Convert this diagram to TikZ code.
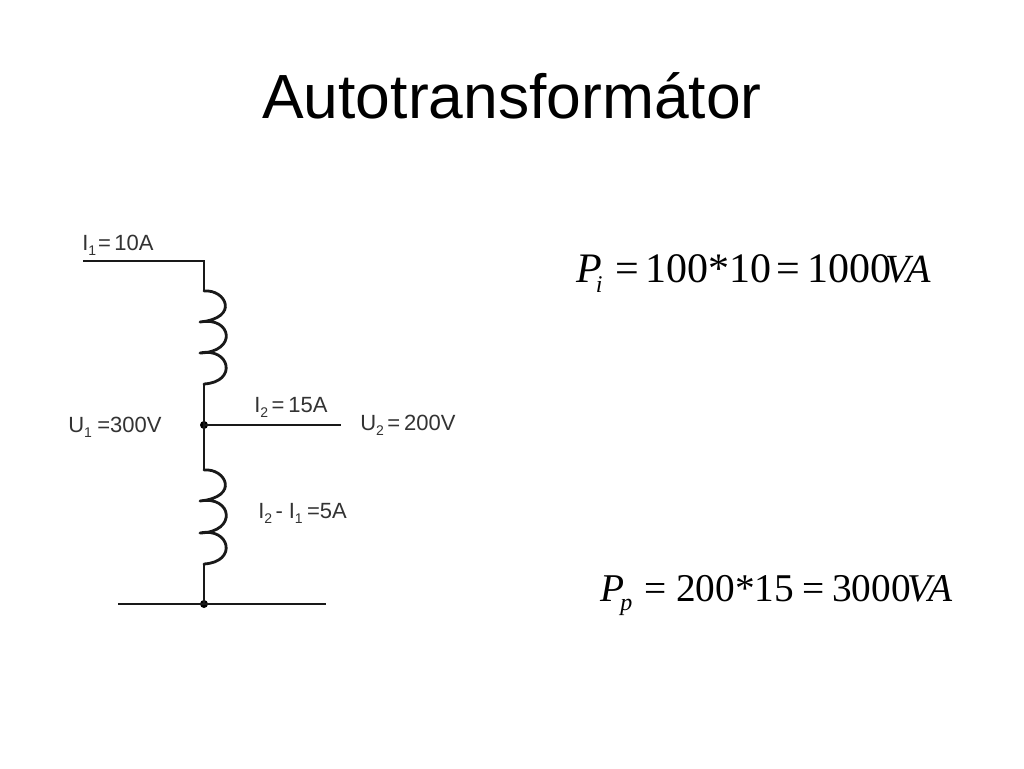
\documentclass[tikz,border=0pt]{standalone}
\usepackage{fontspec}
\setmainfont{Liberation Sans}
\newfontfamily\eqfont{Liberation Serif}
\newcommand{\subs}[1]{\raisebox{-4pt}{\fontsize{10.5pt}{11pt}\selectfont #1}}
\tikzset{
  x=0.75pt,y=-0.75pt,
  wire/.style={line width=2.1pt,black!90,line cap=butt},
  coilwire/.style={line width=2.1pt,black!90,line cap=round},
  junction/.style={circle,fill=black,inner sep=0pt,minimum size=6pt},
  lab/.style={anchor=base west,inner sep=0pt,text=black!80,font=\fontsize{16.5pt}{18pt}\selectfont},
  eqn/.style={anchor=base west,inner sep=0pt,text=black,font=\eqfont\fontsize{31.5pt}{33pt}\selectfont},
  eqnb/.style={anchor=base west,inner sep=0pt,text=black,font=\eqfont\fontsize{29.5pt}{31pt}\selectfont},
  titletext/.style={anchor=base,inner sep=0pt,text=black,font=\fontsize{46.8pt}{50pt}\selectfont}
}
\begin{document}
\begin{tikzpicture}
\useasboundingbox (0,0) rectangle (1024,768);
\fill[white] (0,0) rectangle (1024,768);
\node[titletext] (title) at (512,118) {Autotransformátor};

\coordinate (inL) at (83,261);
\coordinate (corner) at (204,261);
\coordinate (c1top) at (204,291);
\coordinate (c1a) at (200,322);
\coordinate (c1b) at (200,353);
\coordinate (c1bot) at (204,384);
\coordinate (c2top) at (204,470);
\coordinate (c2a) at (200,501);
\coordinate (c2b) at (200,533);
\coordinate (c2bot) at (204,564);
\coordinate (outR) at (341,425);
\coordinate (gndL) at (118,604);
\coordinate (gndR) at (326,604);
\node[junction] (jmid) at (204,425) {};
\node[junction] (jbot) at (204,604) {};

\draw[wire] (inL) -- (corner) -- (c1top);
\draw[wire] (c1bot) -- (jmid.center) -- (c2top);
\draw[wire] (c2bot) -- (jbot.center);
\draw[wire] (jmid.center) -- (outR);
\draw[wire] (gndL) -- (gndR);

\draw[coilwire] (c1top) .. controls +(22,-2) and +(40,-4) .. (c1a)
  (c1a) .. controls +(32,-6) and +(38,-1) .. (c1b)
  (c1b) .. controls +(30,-6) and +(34,-2) .. (c1bot);
\draw[coilwire] (c2top) .. controls +(22,-2) and +(40,-4) .. (c2a)
  (c2a) .. controls +(32,-6) and +(38,-1) .. (c2b)
  (c2b) .. controls +(30,-6) and +(34,-2) .. (c2bot);

\node[lab] (l1) at (82,250) {I\subs{1}\kern1.5pt=\kern2.5pt10A};
\node[lab] (l2) at (68,432) {U\subs{1}\kern4pt=300V};
\node[lab] (l3) at (254,412) {I\subs{2}\kern2.5pt=\kern3pt15A};
\node[lab] (l4) at (360,430) {U\subs{2}\kern2.5pt=\kern3pt200V};
\node[lab] (l5) at (258,518) {I\subs{2}\kern2.5pt-\kern4.5pt I\subs{1}\kern3.25pt=5A};

\node[eqn] (e1p) at (576,282) {\itshape P\kern-4.5pt\raisebox{-7.5pt}{\fontsize{18pt}{20pt}\selectfont i}};
\node[eqn] (e1a) at (615,282) {=};
\node[eqn] (e1b) at (645,282) {100*10};
\node[eqn] (e1c) at (776,282) {=};
\node[eqn] (e1d) at (807,282) {1000};
\node[eqn,font=\eqfont\fontsize{30pt}{32pt}\selectfont] (e1e) at (885,282) {\itshape VA};

\node[eqnb] (e2p) at (600,601) {\itshape P\kern-3pt\raisebox{-6.75pt}{\fontsize{18pt}{20pt}\selectfont p}};
\node[eqnb] (e2a) at (644,601) {=};
\node[eqnb] (e2b) at (676,601) {200*15};
\node[eqnb] (e2c) at (802,601) {=};
\node[eqnb] (e2d) at (832,601) {3000};
\node[eqnb] (e2e) at (907,601) {\itshape VA};
\end{tikzpicture}
\end{document}
